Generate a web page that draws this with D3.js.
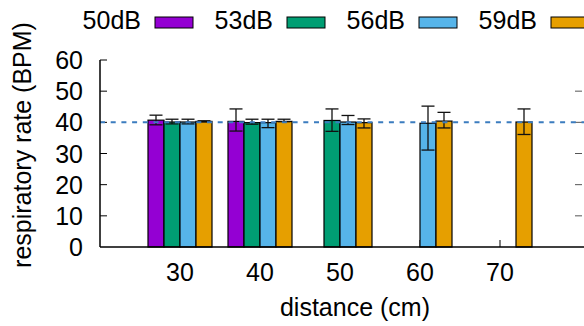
<!DOCTYPE html>
<html>
<head>
<meta charset="utf-8">
<script src="https://cdn.jsdelivr.net/npm/d3@7"></script>
<style>
  body { margin: 0; background: #fff; }
  text { font-family: "Liberation Sans", Arial, sans-serif; fill: #000; }
</style>
</head>
<body>
<svg id="chart" width="584" height="326"></svg>
<script>
// distances on the x axis
var distances = [30, 40, 50, 60, 70];
var seriesNames = ["50dB", "53dB", "56dB", "59dB"];
var colors = ["#9400d3", "#009e73", "#56b4e9", "#e69f00"];
var yTicks = [0, 10, 20, 30, 40, 50, 60];
var refLine = 40;

// mean value per series / distance (null = no bar)
var means = [
  [40.7, 40.3, null, null, null],
  [40.1, 39.9, 40.6, null, null],
  [40.1, 39.9, 40.1, 39.7, null],
  [40.3, 40.3, 39.9, 40.4, 40.1]
];
// lower / upper ends of the error bars
var lows = [
  [39.2, 37.2, null, null, null],
  [39.5, 39.4, 37.1, null, null],
  [39.5, 38.3, 39.3, 31.1, null],
  [40.1, 40.2, 38.2, 38.2, 36.1]
];
var highs = [
  [42.3, 44.3, null, null, null],
  [41.0, 41.0, 44.3, null, null],
  [41.0, 41.0, 42.2, 45.2, null],
  [40.5, 41.0, 41.1, 43.2, 44.3]
];

var svg = d3.select("#chart"),
    margin = {top: 60, right: 2, bottom: 79, left: 100},
    width = +svg.attr("width") - margin.left - margin.right,
    height = +svg.attr("height") - margin.top - margin.bottom,
    g = svg.append("g").attr("transform", "translate(" + margin.left + "," + margin.top + ")");

var x = d3.scaleLinear().domain([20, 80.25]).range([0, width]);
var y = d3.scaleLinear().domain([0, 60]).range([height, 0]);
var barW = 16, capW = 13;
var fs = "25px";

// flatten into bar records
var bars = [];
seriesNames.forEach(function(s, i) {
  distances.forEach(function(d, j) {
    if (means[i][j] != null) {
      bars.push({s: i, d: d, v: means[i][j], lo: lows[i][j], hi: highs[i][j]});
    }
  });
});

// x ticks (inward), drawn under the bars
g.selectAll(".xtick").data(distances).enter().append("line")
    .attr("x1", function(d) { return x(d); }).attr("x2", function(d) { return x(d); })
    .attr("y1", height).attr("y2", height - 7)
    .attr("stroke", "#000").attr("stroke-width", 1);

// y ticks left + mirrored on right
g.selectAll(".ytick").data(yTicks.slice(1)).enter().append("line")
    .attr("x1", 0).attr("x2", 7)
    .attr("y1", function(d) { return y(d); }).attr("y2", function(d) { return y(d); })
    .attr("stroke", "#000").attr("stroke-width", 1);
g.selectAll(".ytick2").data(yTicks.slice(1, 6)).enter().append("line")
    .attr("x1", width - 7).attr("x2", width)
    .attr("y1", function(d) { return y(d); }).attr("y2", function(d) { return y(d); })
    .attr("stroke", "#555").attr("stroke-width", 1);

// bars
g.selectAll(".bar").data(bars).enter().append("rect")
    .attr("x", function(b) { return x(b.d) + (b.s - 2) * barW; })
    .attr("y", function(b) { return y(b.v); })
    .attr("width", barW)
    .attr("height", function(b) { return y(0) - y(b.v); })
    .attr("fill", function(b) { return colors[b.s]; })
    .attr("stroke", "#000").attr("stroke-width", 1.2);

// error bars
var eb = g.selectAll(".err").data(bars).enter().append("g")
    .attr("stroke", "#111").attr("stroke-width", 1.3);
eb.append("line")
    .attr("x1", function(b) { return x(b.d) + (b.s - 1.5) * barW; })
    .attr("x2", function(b) { return x(b.d) + (b.s - 1.5) * barW; })
    .attr("y1", function(b) { return y(b.lo); })
    .attr("y2", function(b) { return y(b.hi); });
["lo", "hi"].forEach(function(k) {
  eb.append("line")
    .attr("x1", function(b) { return x(b.d) + (b.s - 1.5) * barW - capW / 2; })
    .attr("x2", function(b) { return x(b.d) + (b.s - 1.5) * barW + capW / 2; })
    .attr("y1", function(b) { return y(b[k]); })
    .attr("y2", function(b) { return y(b[k]); });
});

// dashed reference line
g.append("line")
    .attr("x1", 0).attr("x2", width + 2)
    .attr("y1", y(refLine)).attr("y2", y(refLine))
    .attr("stroke", "#3b7cbf").attr("stroke-width", 2)
    .attr("stroke-dasharray", "5,5.7");

// axis lines
g.append("line").attr("x1", 0).attr("x2", 0).attr("y1", 0).attr("y2", height)
    .attr("stroke", "#000").attr("stroke-width", 1.5);
g.append("line").attr("x1", 0).attr("x2", width + 2).attr("y1", height).attr("y2", height)
    .attr("stroke", "#000").attr("stroke-width", 1.5);

// tick labels
g.selectAll(".ylab").data(yTicks).enter().append("text")
    .attr("x", -17).attr("y", function(d) { return y(d); })
    .attr("dy", "0.36em")
    .attr("text-anchor", "end")
    .style("font-size", fs)
    .text(function(d) { return d; });
g.selectAll(".xlab").data(distances).enter().append("text")
    .attr("x", function(d) { return x(d); }).attr("y", height + 34)
    .attr("text-anchor", "middle")
    .style("font-size", fs)
    .text(function(d) { return d; });

// axis titles
g.append("text")
    .attr("x", 255).attr("y", height + 69)
    .attr("text-anchor", "middle")
    .style("font-size", fs)
    .text("distance (cm)");
svg.append("text")
    .attr("transform", "translate(31,145) rotate(-90)")
    .attr("text-anchor", "middle")
    .style("font-size", fs)
    .text("respiratory rate (BPM)");

// legend: label then swatch
var leg = svg.selectAll(".leg").data(seriesNames).enter().append("g")
    .attr("transform", function(d, i) { return "translate(" + (155 + i * 132) + ",0)"; });
leg.append("rect")
    .attr("x", 0).attr("y", 17).attr("width", 38).attr("height", 11)
    .attr("fill", function(d, i) { return colors[i]; })
    .attr("stroke", "#000").attr("stroke-width", 1);
leg.append("text")
    .attr("x", -14).attr("y", 29)
    .attr("text-anchor", "end")
    .style("font-size", fs)
    .text(function(d) { return d; });
</script>
</body>
</html>
